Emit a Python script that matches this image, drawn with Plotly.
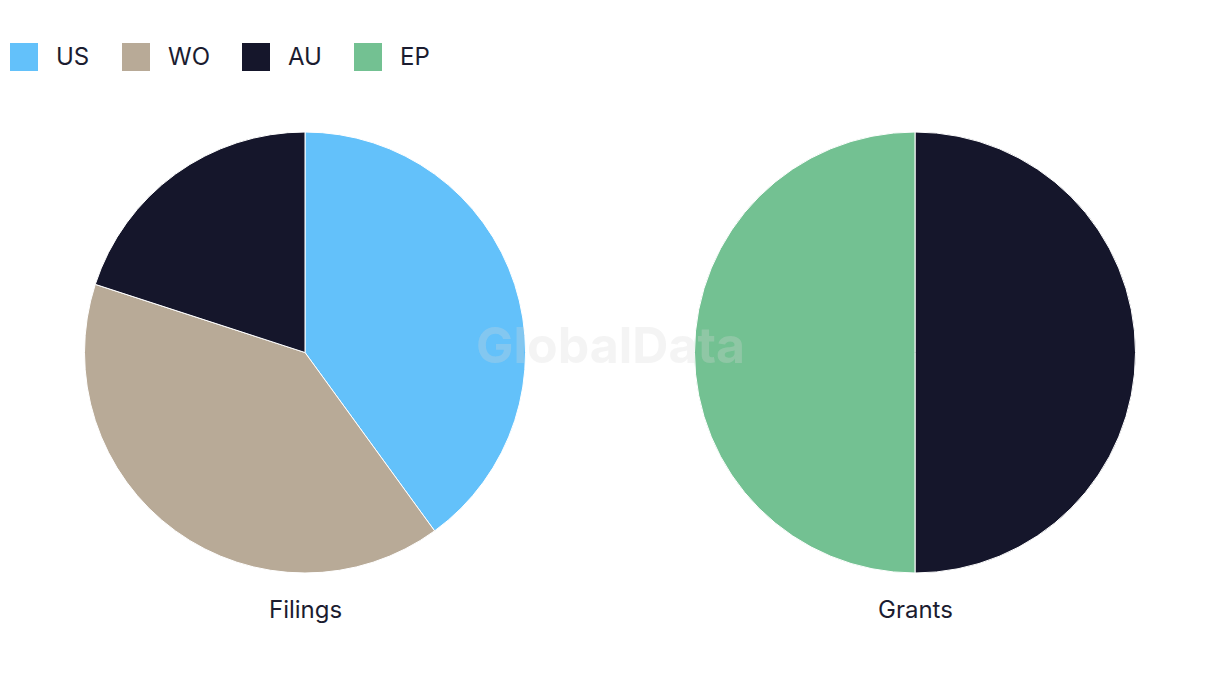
import plotly.graph_objects as go

# data
filing_offices = ["US", "WO", "AU"]
filing_counts = [2, 2, 1]
grant_offices = ["AU", "EP"]
grant_counts = [1, 1]

legend_offices = ["US", "WO", "AU", "EP"]
office_colors = {"US": "#63c1fa", "WO": "#b8aa97", "AU": "#15162b", "EP": "#73c192"}

W, H = 1220, 686
OFF = 8  # page body margin in the browser
FONT = "Inter, sans-serif"
TEXT = "#1b1c30"


def px(x):
    return (x - OFF) / W


def py(y):
    return 1 - (y - OFF) / H


fig = go.Figure()

pies = [
    ("Filings", filing_offices, filing_counts, [84, 526]),
    ("Grants", grant_offices, grant_counts, [694, 1136]),
]
for title, labels, values, (x0, x1) in pies:
    fig.add_trace(
        go.Pie(
            labels=labels,
            values=values,
            sort=False,
            direction="clockwise",
            rotation=0,
            textinfo="none",
            hoverinfo="label+value+percent",
            marker=dict(colors=[office_colors[l] for l in labels], line=dict(color="white", width=1)),
            domain=dict(x=[px(x0), px(x1)], y=[py(573), py(132)]),
            showlegend=False,
            name=title,
        )
    )
    fig.add_annotation(
        text=title,
        x=px((x0 + x1) / 2),
        y=py(609),
        xref="paper",
        yref="paper",
        xanchor="center",
        yanchor="middle",
        showarrow=False,
        font=dict(family=FONT, size=24, color=TEXT),
    )

# custom legend with large square swatches
legend_x = [10, 122, 242, 354]
for office, lx in zip(legend_offices, legend_x):
    fig.add_shape(
        type="rect",
        xref="paper",
        yref="paper",
        x0=px(lx),
        x1=px(lx + 28),
        y0=py(71),
        y1=py(43),
        fillcolor=office_colors[office],
        line=dict(width=0),
    )
    fig.add_annotation(
        text=office,
        x=px(lx + 44),
        y=py(57),
        xref="paper",
        yref="paper",
        xanchor="left",
        yanchor="middle",
        showarrow=False,
        font=dict(family=FONT, size=24, color=TEXT),
    )

# watermark
fig.add_annotation(
    text="<b>GlobalData</b>",
    x=px(610),
    y=py(345),
    xref="paper",
    yref="paper",
    xanchor="center",
    yanchor="middle",
    showarrow=False,
    font=dict(family=FONT, size=50, color="rgba(215,215,215,0.28)"),
)

fig.update_layout(
    width=W,
    height=H,
    margin=dict(l=0, r=0, t=0, b=0),
    paper_bgcolor="white",
    plot_bgcolor="white",
    font=dict(family=FONT, color=TEXT),
)

fig.write_html("out.html")
